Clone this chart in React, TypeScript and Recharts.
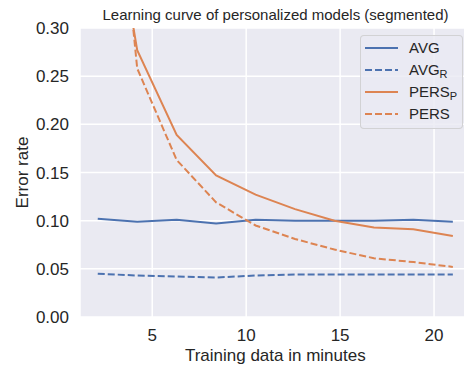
import { CartesianGrid, Line, LineChart, XAxis, YAxis } from 'recharts';

const minutes = [2.1, 4.2, 6.3, 8.4, 10.5, 12.6, 14.7, 16.8, 18.9, 21.0];
const avg = [0.102, 0.099, 0.101, 0.097, 0.101, 0.1, 0.1, 0.1, 0.101, 0.099];
const avgR = [0.045, 0.043, 0.042, 0.041, 0.043, 0.044, 0.044, 0.044, 0.044, 0.044];
const persP = [0.52, 0.277, 0.189, 0.147, 0.127, 0.112, 0.1, 0.093, 0.091, 0.084];
const pers = [0.67, 0.258, 0.163, 0.119, 0.095, 0.081, 0.07, 0.061, 0.057, 0.052];

const xTicks = [5, 10, 15, 20];
const yTicks = [0, 0.05, 0.1, 0.15, 0.2, 0.25, 0.3];

const BLUE = '#4C72B0';
const ORANGE = '#DD8452';
const FONT = '"Liberation Sans", Arial, sans-serif';
const TEXT = '#262626';

const data = minutes.map((m, i) => ({
  minutes: m,
  avg: avg[i],
  avgR: avgR[i],
  persP: persP[i],
  pers: pers[i]
}));

const series = [
  { key: 'avg', color: BLUE, dash: undefined, name: 'AVG', sub: '' },
  { key: 'avgR', color: BLUE, dash: '7 3', name: 'AVG', sub: 'R' },
  { key: 'persP', color: ORANGE, dash: undefined, name: 'PERS', sub: 'P' },
  { key: 'pers', color: ORANGE, dash: '7 3', name: 'PERS', sub: '' }
];

const YLabel = (props: any) => {
  const vb = props.viewBox;
  const cx = 22;
  const cy = vb.y + vb.height / 2;
  return (
    <text
      x={cx}
      y={cy}
      transform={`rotate(-90, ${cx}, ${cy})`}
      textAnchor="middle"
      dominantBaseline="central"
      fontSize={17}
      fontFamily={FONT}
      fill={TEXT}
    >
      Error rate
    </text>
  );
};

const LegendBox = () => (
  <div
    style={{
      position: 'absolute',
      left: 360,
      top: 35,
      width: 101,
      height: 92,
      border: '1px solid rgba(204,204,204,0.8)',
      borderRadius: 4,
      background: 'rgba(234,234,242,0.8)',
      fontFamily: FONT,
      fontSize: 15,
      color: TEXT
    }}
  >
    {series.map((s, i) => (
      <div
        key={s.key}
        style={{ position: 'absolute', left: 0, top: 1 + i * 22, height: 22, width: '100%' }}
      >
        <svg width={34} height={22} style={{ position: 'absolute', left: 4, top: 0 }}>
          <line x1={0} y1={11} x2={33} y2={11} stroke={s.color} strokeWidth={2} strokeDasharray={s.dash} />
        </svg>
        <span style={{ position: 'absolute', left: 48, top: 2, lineHeight: '17px', whiteSpace: 'nowrap' }}>
          {s.name}
          {s.sub ? (
            <span style={{ fontSize: 11, position: 'relative', top: 3 }}>{s.sub}</span>
          ) : null}
        </span>
      </div>
    ))}
  </div>
);

export default function App() {
  return (
    <div
      style={{
        position: 'absolute',
        left: 0,
        top: 0,
        width: 464,
        height: 368,
        overflow: 'hidden',
        background: '#fff'
      }}
    >
      <div
        style={{
          position: 'absolute',
          left: 80,
          width: 391,
          top: 7,
          lineHeight: '16px',
          textAlign: 'center',
          fontFamily: FONT,
          fontSize: 15,
          color: TEXT,
          whiteSpace: 'nowrap'
        }}
      >
        Learning curve of personalized models (segmented)
      </div>
      <LineChart width={471} height={368} data={data} margin={{ top: 28, right: 0.4, bottom: 0, left: 0 }}>
        <CartesianGrid fill="#EAEAF2" stroke="#FFFFFF" strokeWidth={1.5} />
        <XAxis
          dataKey="minutes"
          type="number"
          domain={[1.155, 21.945]}
          ticks={xTicks}
          allowDataOverflow
          axisLine={false}
          tickLine={false}
          tickSize={0}
          tickMargin={12}
          height={51}
          tick={{ fill: TEXT, fontSize: 17, fontFamily: FONT }}
          label={{
            value: 'Training data in minutes',
            position: 'insideBottom',
            offset: 7,
            fill: TEXT,
            fontSize: 17,
            fontFamily: FONT
          }}
        />
        <YAxis
          type="number"
          domain={[0, 0.3]}
          ticks={yTicks}
          allowDataOverflow
          axisLine={false}
          tickLine={false}
          tickSize={0}
          tickMargin={11}
          width={80}
          tickFormatter={(v: number) => v.toFixed(2)}
          tick={{ fill: TEXT, fontSize: 17, fontFamily: FONT }}
          label={(props: any) => <YLabel {...props} />}
        />
        {series.map((s) => (
          <Line
            key={s.key}
            type="linear"
            dataKey={s.key}
            stroke={s.color}
            strokeWidth={2}
            strokeDasharray={s.dash}
            dot={false}
            activeDot={false}
            isAnimationActive={false}
          />
        ))}
      </LineChart>
      <LegendBox />
    </div>
  );
}
